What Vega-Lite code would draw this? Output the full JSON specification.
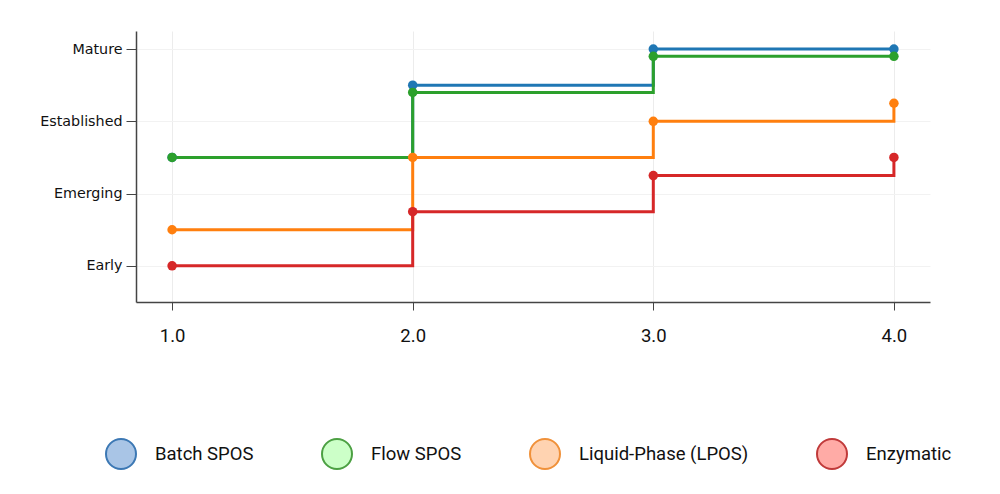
{
  "$schema": "https://vega.github.io/schema/vega-lite/v6.json",
  "width": 794,
  "height": 271,
  "autosize": {"type": "none"},
  "padding": {"left": 136, "top": 31, "right": 70, "bottom": 192},
  "background": "white",
  "data": {
    "values": [
      {"x": 1, "stage": 2.5, "series": "Batch SPOS"},
      {"x": 2, "stage": 3.5, "series": "Batch SPOS"},
      {"x": 3, "stage": 4.0, "series": "Batch SPOS"},
      {"x": 4, "stage": 4.0, "series": "Batch SPOS"},
      {"x": 1, "stage": 2.5, "series": "Flow SPOS"},
      {"x": 2, "stage": 3.4, "series": "Flow SPOS"},
      {"x": 3, "stage": 3.9, "series": "Flow SPOS"},
      {"x": 4, "stage": 3.9, "series": "Flow SPOS"},
      {"x": 1, "stage": 1.5, "series": "Liquid-Phase (LPOS)"},
      {"x": 2, "stage": 2.5, "series": "Liquid-Phase (LPOS)"},
      {"x": 3, "stage": 3.0, "series": "Liquid-Phase (LPOS)"},
      {"x": 4, "stage": 3.25, "series": "Liquid-Phase (LPOS)"},
      {"x": 1, "stage": 1.0, "series": "Enzymatic"},
      {"x": 2, "stage": 1.75, "series": "Enzymatic"},
      {"x": 3, "stage": 2.25, "series": "Enzymatic"},
      {"x": 4, "stage": 2.5, "series": "Enzymatic"}
    ]
  },
  "encoding": {
    "x": {
      "field": "x",
      "type": "quantitative",
      "scale": {"domain": [0.85, 4.15], "nice": false, "zero": false},
      "axis": {
        "title": null,
        "values": [1, 2, 3, 4],
        "format": ".1f",
        "labelFont": "Roboto",
        "labelFontSize": 18.5,
        "labelColor": "#111",
        "labelPadding": 16,
        "tickSize": 8,
        "tickColor": "#444",
        "domainColor": "#444",
        "domainWidth": 1.5,
        "gridColor": "#ececec"
      }
    },
    "y": {
      "field": "stage",
      "type": "quantitative",
      "scale": {"domain": [0.5, 4.25], "nice": false, "zero": false},
      "axis": {
        "title": null,
        "values": [1, 2, 3, 4],
        "labelExpr": "datum.value == 1 ? 'Early' : datum.value == 2 ? 'Emerging' : datum.value == 3 ? 'Established' : datum.value == 4 ? 'Mature' : ''",
        "labelFont": "DejaVu Sans",
        "labelFontSize": 14.3,
        "labelColor": "#111",
        "labelPadding": 4,
        "tickSize": 10,
        "tickColor": "#444",
        "domainColor": "#444",
        "domainWidth": 1.5,
        "gridColor": "#f2f2f2"
      }
    }
  },
  "layer": [
    {
      "mark": {"type": "line", "interpolate": "step-after", "strokeWidth": 3},
      "encoding": {
        "color": {
          "field": "series",
          "type": "nominal",
          "sort": null,
          "scale": {
            "domain": ["Batch SPOS", "Flow SPOS", "Liquid-Phase (LPOS)", "Enzymatic"],
            "range": ["#1f77b4", "#2ca02c", "#ff7f0e", "#d62728"]
          },
          "legend": null
        }
      }
    },
    {
      "mark": {"type": "point", "filled": true, "opacity": 1, "size": 90, "shape": "circle"},
      "encoding": {
        "color": {"field": "series", "type": "nominal", "sort": null, "legend": null}
      }
    },
    {
      "mark": {"type": "point", "filled": true, "opacity": 0, "size": 0, "shape": "circle"},
      "encoding": {
        "fill": {
          "field": "series",
          "type": "nominal",
          "sort": null,
          "scale": {
            "domain": ["Batch SPOS", "Flow SPOS", "Liquid-Phase (LPOS)", "Enzymatic"],
            "range": ["#a9c5e6", "#ccffc8", "#ffd3b1", "#ffaba6"]
          },
          "legend": {
            "title": null,
            "orient": "none",
            "legendX": -31,
            "legendY": 407,
            "direction": "horizontal",
            "symbolType": "circle",
            "symbolSize": 900,
            "symbolOpacity": 1,
            "symbolStrokeWidth": 2,
            "symbolOffset": 0,
            "labelOffset": 18,
            "labelFont": "Roboto",
            "labelFontSize": 18.5,
            "labelColor": "#111",
            "labelLimit": 0,
            "columnPadding": 64,
            "padding": 0
          }
        },
        "stroke": {
          "field": "series",
          "type": "nominal",
          "sort": null,
          "scale": {
            "domain": ["Batch SPOS", "Flow SPOS", "Liquid-Phase (LPOS)", "Enzymatic"],
            "range": ["#3c78b4", "#4ca043", "#f0913a", "#c03a3a"]
          },
          "legend": {
            "title": null,
            "orient": "none",
            "legendX": -31,
            "legendY": 407,
            "direction": "horizontal",
            "symbolType": "circle",
            "symbolSize": 900,
            "symbolOpacity": 1,
            "symbolStrokeWidth": 2,
            "symbolOffset": 0,
            "labelOffset": 18,
            "labelFont": "Roboto",
            "labelFontSize": 18.5,
            "labelColor": "#111",
            "labelLimit": 0,
            "columnPadding": 64,
            "padding": 0
          }
        }
      }
    }
  ],
  "resolve": {"scale": {"fill": "independent", "stroke": "independent"}},
  "config": {
    "view": {"stroke": null},
    "axis": {"gridWidth": 1}
  }
}
